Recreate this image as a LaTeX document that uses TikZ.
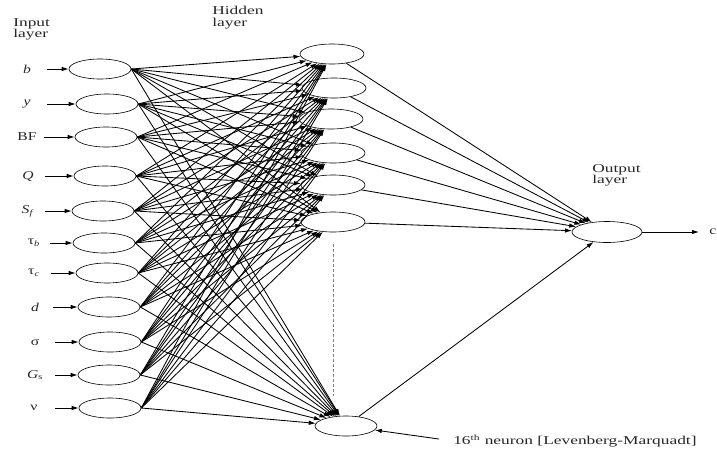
\documentclass[tikz,border=0pt]{standalone}
\usepackage{fontspec}
\setmainfont{Liberation Serif}
\usetikzlibrary{arrows.meta, shapes.geometric}

\begin{document}
\begin{tikzpicture}[
  x=1pt, y=-1pt,
  neuron/.style={draw, ellipse, inner sep=0pt, minimum width=62pt, minimum height=20pt, line width=0.6pt},
  wire/.style={-{Latex[length=7pt, width=4.5pt]}, line width=0.85pt},
  lbl/.style={font=\fontsize{12}{11.5}\selectfont, align=left, inner sep=0pt, xscale=1.45, transform shape, text=black!85},
  var/.style={font=\fontsize{12}{12}\selectfont, inner sep=0pt, xscale=1.3, transform shape, text=black!85},
  gap/.style={gray, densely dashed, line width=0.5pt},
]
\useasboundingbox (0,0) rectangle (717,455);

% layer titles
\node[lbl, anchor=north west] (tin)  at (13,18)  {Input\\layer};
\node[lbl, anchor=north west] (thid) at (212,6)  {Hidden\\layer};
\node[lbl, anchor=north west] (tout) at (592,164) {Output\\layer};

% input layer
\foreach \i/\txt/\xl/\xs/\xn/\y in {
    1/\textit{b}/27/47/100/69,
    2/\textit{y}/27/47/107/104,
    3/BF/27/44/106/137,
    4/\textit{Q}/28/45/105/176,
    5/\textit{S}\textsubscript{\textit{f}}/28/45/103/211,
    6/τ\textsubscript{\textit{b}}/34/50/104/243,
    7/τ\textsubscript{\textit{c}}/34/51/107/273,
    8/\textit{d}/35/53/109/307,
    9/σ/35/55/110/342,
    10/\textit{G}\textsubscript{s}/35/55/109/375,
    11/ν/34/55/110/408} {
  \node[neuron] (in\i) at (\xn,\y) {};
  \node[var] (l\i) at (\xl,\y) {\txt};
  \coordinate (s\i) at (\xs,\y);
  \draw[wire] (s\i) -- (in\i.west);
}

% hidden layer
\node[neuron, minimum width=64pt] (h1) at (332,54)  {};
\node[neuron, minimum width=64pt] (h2) at (334,88)  {};
\node[neuron, minimum width=64pt] (h3) at (331,119) {};
\node[neuron, minimum width=64pt] (h4) at (333,153) {};
\node[neuron, minimum width=64pt] (h5) at (333,185) {};
\node[neuron, minimum width=64pt] (h6) at (333,222) {};
\node[neuron, minimum width=62pt] (h7) at (346,426) {};
\draw[gap] ([yshift=-12pt]h6.south) -- ([yshift=20pt]h6.south |- h7.north);

% output layer
\node[neuron, minimum width=70pt, minimum height=21pt] (out) at (607,232) {};
\node[var, anchor=west] (res) at (709,232) {c};

% weights
\foreach \i in {1,...,11}
  \foreach \j in {1,...,7}
    \draw[wire] (in\i.east) -- (h\j);
\foreach \j in {1,...,7}
  \draw[wire] (h\j) -- (out);
\draw[wire] (out.east) -- (res.west) [shorten >=10pt];

\node[lbl, anchor=west] (lev) at (453,441) {16\textsuperscript{th} neuron [Levenberg-Marquadt]};
\draw[wire] (lev.west) [shorten <=14pt] -- (h7);

\end{tikzpicture}
\end{document}
